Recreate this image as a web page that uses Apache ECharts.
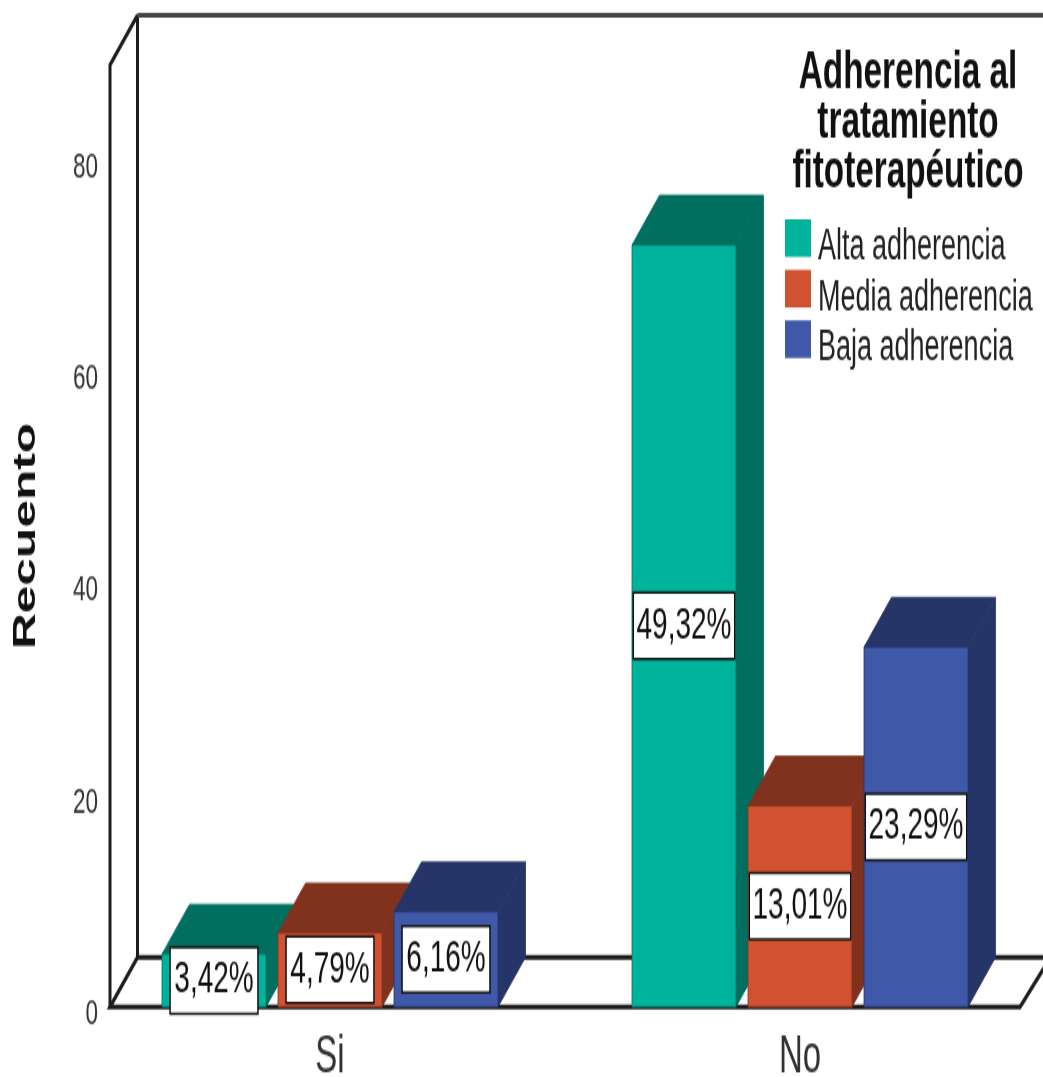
<!DOCTYPE html>
<html>
<head>
<meta charset="utf-8">
<script src="https://cdn.jsdelivr.net/npm/echarts@6/dist/echarts.min.js"></script>
<style>
html,body{margin:0;padding:0;background:#fff;overflow:hidden;width:1043px;height:1077px}
#chart{width:1043px;height:673px;transform-origin:0 0;transform:scaleY(1.6003)}
</style>
</head>
<body>
<div id="chart"></div>
<script>
const categories = ['Si', 'No'];
const alta = [5, 72];
const media = [7, 19];
const baja = [9, 34];
const altaLabels = ['3,42%', '49,32%'];
const mediaLabels = ['4,79%', '13,01%'];
const bajaLabels = ['6,16%', '23,29%'];
const yTicks = [0, 20, 40, 60, 80];
const legendTitle = 'Adherencia al\ntratamiento\nfitoterapéutico';
const yName = 'Recuento';

const FONT = '"Liberation Sans", Arial, sans-serif';
const DX = 27.5, DY = 31, BW = 104, STEP = 116;

function barSeries(name, vals, labels, idx, front, dark) {
  return {
    type: 'custom', name, coordinateSystem: 'cartesian2d',
    itemStyle: {color: front},
    data: vals.map((v, i) => [i, v]),
    encode: {x: 0, y: 1},
    renderItem(params, api) {
      const i = api.value(0);
      const top = api.coord([i, api.value(1)]);
      const base = api.coord([i, 0]);
      const cx = top[0] + (idx - 1) * STEP;
      const l = cx - BW / 2, r = cx + BW / 2, t = top[1], b = base[1];
      const edge = {stroke: dark, lineWidth: 0.8};
      const padX = labels[i].length > 5 ? 2.5 : 3.5;
      return {type: 'group', children: [
        {type: 'polygon', shape: {points: [[r, t], [r + DX, t - DY], [r + DX, b - DY], [r, b]]}, style: {fill: dark, ...edge}},
        {type: 'polygon', shape: {points: [[l, t], [l + DX, t - DY], [r + DX, t - DY], [r, t]]}, style: {fill: dark, ...edge}},
        {type: 'rect', shape: {x: l, y: t, width: BW, height: b - t}, style: {fill: front, ...edge}},
        {type: 'text', z2: 100, style: {
          text: labels[i], x: cx, y: (t + b) / 2, align: 'center', verticalAlign: 'middle',
          fill: '#111', font: '28px ' + FONT, backgroundColor: '#fff',
          borderColor: '#111', borderWidth: 1.5,
          padding: [7.5, padX, 4.5, padX]
        }}
      ]};
    }
  };
}

const frameSeries = {
  type: 'custom', name: 'frame', silent: true, coordinateSystem: 'cartesian2d',
  data: [[0, 0]], encode: {x: 0, y: 1}, z: 1,
  renderItem(params) {
    const cs = params.coordSys;
    const x0 = cs.x + 15, x1 = cs.x + cs.width - 15;
    const b = cs.y + cs.height, t = cs.y;
    const ln = {stroke: '#1c1c1c', lineWidth: 3, fill: 'none', lineJoin: 'miter'};
    return {type: 'group', children: [
      {type: 'polyline', shape: {points: [[x0, b], [x0, t], [x0 + DX, t - DY]]}, style: ln},
      {type: 'polyline', shape: {points: [[x0 + DX, t - DY], [x0 + DX, b - DY]]}, style: ln},
      {type: 'polyline', shape: {points: [[x0 + DX, t - DY], [x1 + DX + 10, t - DY]]}, style: {...ln, stroke: '#444'}},
      {type: 'polyline', shape: {points: [[x1 + DX + 10, b - DY], [x0 + DX, b - DY], [x0, b], [x1, b], [x1 + DX, b - DY + 3]]}, style: ln}
    ]};
  }
};

const chart = echarts.init(document.getElementById('chart'), null, {renderer: 'canvas'});
chart.setOption({
  animation: false,
  backgroundColor: '#fff',
  textStyle: {fontFamily: FONT},
  title: {
    text: legendTitle, left: 903, top: 25, textAlign: 'center',
    textStyle: {fontSize: 33.3, fontWeight: 'bold', lineHeight: 31, color: '#111', fontFamily: FONT}
  },
  legend: {
    orient: 'vertical', left: 785, top: 137, padding: 0, itemWidth: 26, itemHeight: 23.5, itemGap: 0.6,
    icon: 'rect', data: ['Alta adherencia', 'Media adherencia', 'Baja adherencia'],
    formatter: n => '{t|' + n + '}',
    textStyle: {
      fontSize: 27, color: '#222', fontFamily: FONT,
      rich: {t: {fontSize: 27, color: '#222', fontFamily: FONT, padding: [11.5, 0, 0, 2]}}
    }
  },
  grid: {left: 95, top: 40.6, width: 940, height: 588.6, containLabel: false, outerBoundsMode: 'none'},
  xAxis: {
    type: 'category', data: categories,
    axisLine: {show: false}, axisTick: {show: false},
    axisLabel: {fontSize: 33, color: '#333', margin: 15, fontFamily: FONT}
  },
  yAxis: {
    type: 'value', min: 0, max: 89, interval: 20,
    name: yName, nameLocation: 'middle', nameRotate: 90, nameGap: 53,
    nameTextStyle: {fontSize: 31, fontWeight: 'bold', color: '#111', fontFamily: FONT},
    splitLine: {show: false}, axisLine: {show: false}, axisTick: {show: false},
    axisLabel: {
      color: '#333', margin: -3, showMaxLabel: false,
      formatter: v => yTicks.includes(v) ? '{t|' + v + '}' : '',
      rich: {t: {fontSize: 22.5, color: '#333', fontFamily: FONT, padding: [9, 0, 0, 0]}}
    }
  },
  series: [
    frameSeries,
    barSeries('Alta adherencia', alta, altaLabels, 0, '#00B39D', '#006F5F'),
    barSeries('Media adherencia', media, mediaLabels, 1, '#D05230', '#80321E'),
    barSeries('Baja adherencia', baja, bajaLabels, 2, '#3F58A8', '#253568')
  ]
});
</script>
</body>
</html>
